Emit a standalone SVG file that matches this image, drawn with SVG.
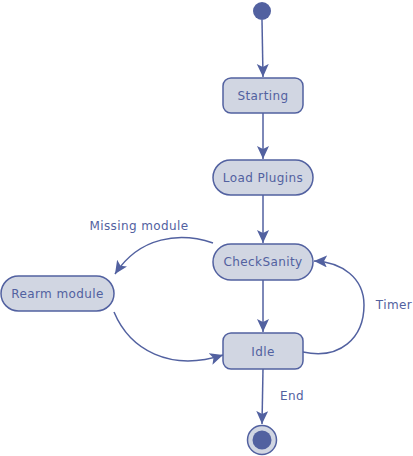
<svg xmlns="http://www.w3.org/2000/svg" width="413" height="456" viewBox="0 0 413 456">
<style>
.node{fill:#d1d6e2;stroke:#5261a0;stroke-width:1.5}
.lbl{font-family:"DejaVu Sans",sans-serif;font-size:12px;letter-spacing:0.4px;fill:#5261a0;text-anchor:middle;dominant-baseline:central}
.edge{fill:none;stroke:#5261a0;stroke-width:1.5}
</style>
<defs>
<marker id="arr" markerUnits="userSpaceOnUse" markerWidth="16" markerHeight="14" refX="13" refY="6" orient="auto">
<path d="M0,0 L13,6 L0,12 L3,6 z" fill="#5261a0"/>
</marker>
</defs>
<g id="edges">
<path class="edge" d="M262,20 L263,77" marker-end="url(#arr)"/>
<path class="edge" d="M263,113 L263,159" marker-end="url(#arr)"/>
<path class="edge" d="M263,195 L263,243" marker-end="url(#arr)"/>
<path class="edge" d="M213,243 C180,232 140,236 115,274" marker-end="url(#arr)"/>
<path class="edge" d="M114,312 C130,350 170,372 223,355" marker-end="url(#arr)"/>
<path class="edge" d="M263,280 L263,332" marker-end="url(#arr)"/>
<path class="edge" d="M303,352 C340,360 364,338 364,305 C364,278 342,262 314,261" marker-end="url(#arr)"/>
<path class="edge" d="M263,369 L262,424" marker-end="url(#arr)"/>
<text class="lbl" x="139" y="226">Missing module</text>
<text class="lbl" x="394" y="305">Timer</text>
<text class="lbl" x="292" y="396">End</text>
</g>
<g id="start"><circle cx="262" cy="11" r="9" fill="#5261a0"/></g>
<g id="starting"><rect class="node" x="223" y="78" width="80" height="35" rx="8"/><text class="lbl" x="263" y="96">Starting</text></g>
<g id="loadplugins"><rect class="node" x="213" y="160" width="100" height="35" rx="17.5"/><text class="lbl" x="263" y="178">Load Plugins</text></g>
<g id="checksanity"><rect class="node" x="213" y="244" width="100" height="36" rx="18"/><text class="lbl" x="263" y="262">CheckSanity</text></g>
<g id="rearm"><rect class="node" x="1" y="276" width="113" height="35" rx="17.5"/><text class="lbl" x="57.5" y="294">Rearm module</text></g>
<g id="idle"><rect class="node" x="223" y="333" width="80" height="36" rx="8"/><text class="lbl" x="263" y="352">Idle</text></g>
<g id="end"><circle cx="262" cy="440" r="14.5" class="node"/><circle cx="262" cy="440" r="9.5" fill="#5261a0"/></g>
</svg>
